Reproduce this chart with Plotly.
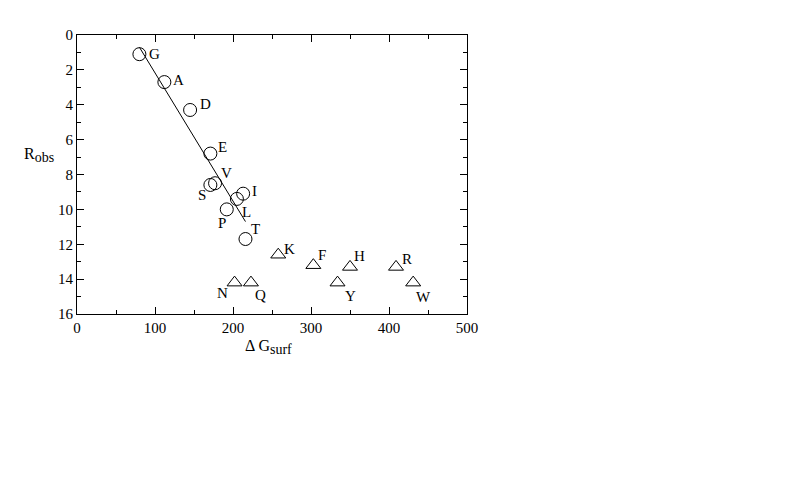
import plotly.graph_objects as go

circ_labels = ["G", "A", "D", "E", "S", "V", "I", "L", "P", "T"]
circ_x = [80, 112, 145, 171, 171, 177, 213, 205, 192, 216]
circ_y = [1.1, 2.7, 4.3, 6.8, 8.6, 8.5, 9.1, 9.4, 10.0, 11.7]

tri_labels = ["K", "F", "N", "Q", "H", "Y", "R", "W"]
tri_x = [258, 303, 202, 223, 350, 334, 409, 431]
tri_y = [12.6, 13.2, 14.2, 14.2, 13.3, 14.2, 13.3, 14.2]

fit_x = [80, 216]
fit_y = [0.7, 10.7]

# label offsets in pixels (dx, dy with dy positive downward)
offsets = {
    "G": (15, 0), "A": (14, -2), "D": (15, -6), "E": (12, -7), "V": (11, -10),
    "S": (-8, 10), "I": (11, -3), "L": (10, 13), "P": (-5, 14), "T": (10, -10),
    "K": (11, -6), "F": (9, -10), "N": (-12, 10), "Q": (10, 12), "H": (9, -11),
    "Y": (13, 13), "R": (11, -8), "W": (10, 14),
}

font = dict(family="Liberation Serif, Times New Roman, serif", size=15, color="black")
title_font = dict(family="Liberation Serif, Times New Roman, serif", size=16, color="black")

fig = go.Figure()
fig.add_trace(go.Scatter(x=fit_x, y=fit_y, mode="lines",
                         line=dict(color="black", width=1), showlegend=False))
fig.add_trace(go.Scatter(x=circ_x, y=circ_y, mode="markers",
                         marker=dict(symbol="circle-open", size=13,
                                     color="black", line=dict(width=1)),
                         showlegend=False))
fig.add_trace(go.Scatter(x=tri_x, y=tri_y, mode="markers",
                         marker=dict(symbol="triangle-up-open", size=13,
                                     color="black", line=dict(width=1)),
                         showlegend=False))

for lab, x, y in list(zip(circ_labels, circ_x, circ_y)) + list(zip(tri_labels, tri_x, tri_y)):
    dx, dy = offsets[lab]
    fig.add_annotation(x=x, y=y, text=lab, showarrow=False, xshift=dx, yshift=-dy,
                       font=font)

axis_common = dict(showgrid=False, zeroline=False, showline=True, linecolor="black",
                   linewidth=1, mirror="ticks", ticks="inside", tickcolor="black",
                   ticklen=7, tickwidth=1, tickfont=font)

fig.update_xaxes(range=[0, 500], dtick=100, tick0=0,
                 minor=dict(dtick=50, ticks="inside", ticklen=4, tickcolor="black"),
                 **axis_common)
fig.update_yaxes(range=[16, 0], dtick=2, tick0=0,
                 minor=dict(dtick=1, ticks="inside", ticklen=4, tickcolor="black"),
                 **axis_common)

fig.add_annotation(text="R<sub><span style='font-size:14px'>obs</span></sub>",
                   xref="paper", yref="paper", x=-0.055, y=0.57,
                   xanchor="right", yanchor="middle", showarrow=False, font=title_font)
fig.add_annotation(text="\u0394 G<sub><span style='font-size:14px'>surf</span></sub>",
                   xref="paper", yref="paper", x=0.49, y=-0.075,
                   xanchor="center", yanchor="top", showarrow=False, font=title_font)

fig.update_layout(width=800, height=500, plot_bgcolor="white", paper_bgcolor="white",
                  margin=dict(l=69, r=341, t=27, b=194), font=font)

fig.write_html("out.html")
